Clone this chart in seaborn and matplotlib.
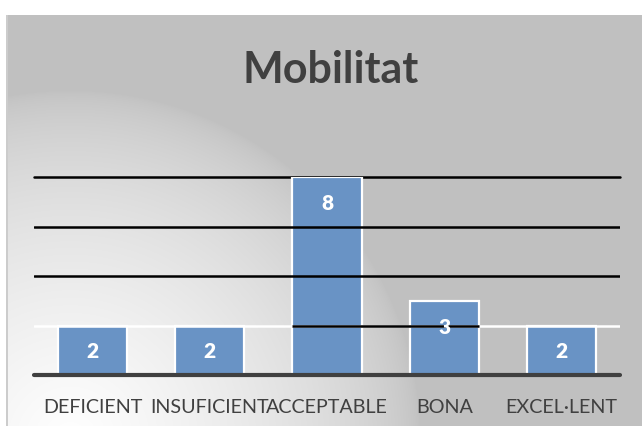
import numpy as np
import pandas as pd
import matplotlib
matplotlib.use("Agg")
import matplotlib.pyplot as plt
import seaborn as sns

categories = ["DEFICIENT", "INSUFICIENT", "ACCEPTABLE", "BONA", "EXCEL·LENT"]
values = [2, 2, 8, 3, 2]
gridlines = [2, 4, 6, 8]
title = "Mobilitat"

sns.set_theme(style="white")
plt.rcParams['font.family'] = ['Lato', 'DejaVu Sans']

W, H = 642, 426
fig = plt.figure(figsize=(W / 100, H / 100), dpi=100)
fig.patch.set_facecolor("white")

# background gradient (chart area)
bg = fig.add_axes([0, 0, 1, 1], zorder=-5)
yy, xx = np.mgrid[0:H, 0:W]
d = np.sqrt((xx - 70) ** 2 + (yy - 440) ** 2)
f = np.clip(1 - d / 350.0, 0, 1) ** 0.6
g = (192 + (255 - 192) * f) / 255.0
img = np.dstack([g, g, g])
img[:15, :, :] = 1.0
img[:, :7, :] = 1.0
img[15:, 6:8, :] = 0.80
bg.imshow(img, extent=[0, W, H, 0], aspect="auto", interpolation="bilinear")
bg.set_xlim(0, W)
bg.set_ylim(H, 0)
bg.axis("off")

ax = fig.add_axes([34 / W, 1 - 375 / H, (620 - 34) / W, (375 - 177) / H])
ax.set_facecolor("none")
df = pd.DataFrame({"cat": categories, "val": values})
sns.barplot(data=df, x="cat", y="val", color="#6993C5", saturation=1,
            edgecolor="white", linewidth=1.6, width=0.59, ax=ax, zorder=2)
ax.set_ylim(0, 8)
ax.set_xlim(-0.5, len(categories) - 0.5)

# gridlines: top one behind bars, middle ones above bars, as in the reference
ax.axhline(gridlines[-1], color="black", lw=1.8, zorder=1, clip_on=False)
for gv in gridlines[1:-1]:
    ax.axhline(gv, color="black", lw=1.8, zorder=3)
ax.axhline(gridlines[0], color="white", lw=1.8, zorder=3)
p2, p3 = ax.patches[2], ax.patches[3]
ax.plot([p2.get_x(), p3.get_x() + p3.get_width()], [gridlines[0]] * 2,
        color="black", lw=1.8, zorder=4, solid_capstyle="butt")

ax.axhline(0, color="#404040", lw=3, zorder=5, clip_on=False)

for p, v in zip(ax.patches, values):
    ax.annotate(str(v), (p.get_x() + p.get_width() / 2, v), xytext=(0, -19),
                textcoords="offset points", ha="center", va="center",
                color="white", fontsize=15, fontweight="heavy", zorder=6)

for s in ax.spines.values():
    s.set_visible(False)
ax.set_yticks([])
ax.set_xlabel("")
ax.set_ylabel("")
ax.tick_params(axis="x", length=0, pad=17, labelsize=14.2, colors="#404040")

fig.text(331 / W, 1 - 83 / H, title, ha="center", va="baseline",
         fontsize=31, fontweight="bold", color="#404040")

fig.savefig("out.png", dpi=100)
